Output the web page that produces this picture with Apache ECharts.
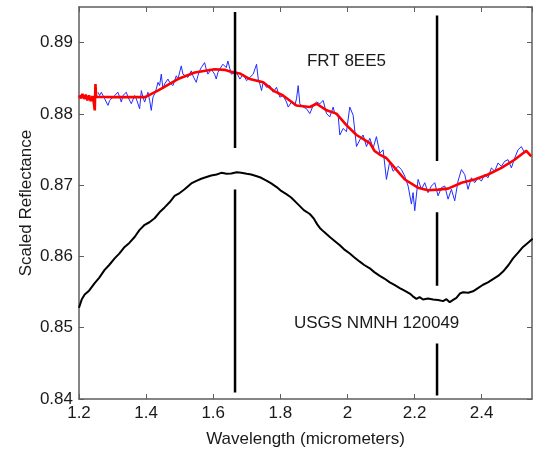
<!DOCTYPE html>
<html>
<head>
<meta charset="utf-8">
<script src="https://cdn.jsdelivr.net/npm/echarts@6/dist/echarts.min.js"></script>
<style>
html,body{margin:0;padding:0;background:#fff;}
#chart{width:533px;height:453px;}
</style>
</head>
<body>
<div id="chart"></div>
<script>
// ---- data ----
var xTicks = [1.2, 1.4, 1.6, 1.8, 2, 2.2, 2.4];
var yTicks = [0.84, 0.85, 0.86, 0.87, 0.88, 0.89];

// smoothed FRT 8EE5 spectrum (red)
var frtSmooth = [
  [1.200,0.8826],[1.205,0.8822],[1.210,0.8828],[1.215,0.8821],[1.220,0.8827],[1.225,0.8819],
  [1.230,0.8826],[1.235,0.8818],[1.240,0.8825],[1.244,0.8816],[1.247,0.8805],[1.249,0.8842],
  [1.251,0.8824],[1.300,0.88235],[1.397,0.88235],[1.435,0.88327],[1.495,0.88489],[1.545,0.88582],
  [1.604,0.88627],[1.634,0.88618],[1.650,0.88595],[1.679,0.88568],[1.709,0.88489],[1.749,0.88443],
  [1.779,0.88327],[1.808,0.88258],[1.848,0.88119],[1.888,0.88097],[1.908,0.88143],[1.938,0.8805],
  [1.967,0.88004],[1.997,0.87842],[2.027,0.87704],[2.067,0.87589],[2.081,0.8748],[2.096,0.8743],
  [2.116,0.87381],[2.141,0.87242],[2.171,0.8708],[2.210,0.86965],[2.240,0.86928],[2.270,0.86938],
  [2.300,0.86952],[2.340,0.87035],[2.379,0.8708],[2.419,0.8715],[2.459,0.87242],[2.498,0.87357],
  [2.533,0.87482],[2.548,0.87404]
];

// raw FRT 8EE5 spectrum (blue)
var frtRaw = [
  [1.2566,0.88304],[1.2615,0.88258],[1.2665,0.88304],[1.2765,0.88212],[1.2864,0.88120],[1.2914,0.88189],
  [1.2963,0.88212],[1.3062,0.88258],[1.3161,0.88304],[1.3211,0.88235],[1.3261,0.88166],[1.3310,0.88258],
  [1.3410,0.88304],[1.3460,0.88235],[1.3559,0.88143],[1.3658,0.88258],[1.3708,0.88212],[1.3807,0.88073],
  [1.3857,0.88327],[1.3906,0.88235],[1.3956,0.88166],[1.4055,0.88304],[1.4105,0.88189],[1.4154,0.88050],
  [1.4204,0.88235],[1.4253,0.88281],[1.4303,0.88350],[1.4353,0.88443],[1.4402,0.88397],[1.4452,0.88558],
  [1.4502,0.88350],[1.4551,0.88420],[1.4651,0.88489],[1.4700,0.88443],[1.4799,0.88397],[1.4849,0.88466],
  [1.4899,0.88535],[1.4948,0.88489],[1.4998,0.88466],[1.5048,0.88674],[1.5097,0.88558],[1.5147,0.88581],
  [1.5246,0.88512],[1.5296,0.88558],[1.5346,0.88604],[1.5395,0.88535],[1.5494,0.88443],[1.5544,0.88535],
  [1.5594,0.88604],[1.5643,0.88650],[1.5743,0.88720],[1.5792,0.88627],[1.5842,0.88558],[1.5941,0.88627],
  [1.6040,0.88558],[1.6090,0.88489],[1.6140,0.88581],[1.6189,0.88627],[1.6289,0.88697],[1.6338,0.88720],
  [1.6388,0.88650],[1.6437,0.88743],[1.6537,0.88558],[1.6596,0.88535],[1.6695,0.88581],[1.6795,0.88489],
  [1.6894,0.88558],[1.6993,0.88466],[1.7092,0.88512],[1.7192,0.88558],[1.7291,0.88697],[1.7341,0.88489],
  [1.7390,0.88420],[1.7440,0.88327],[1.7489,0.88443],[1.7589,0.88373],[1.7688,0.88397],[1.7787,0.88304],
  [1.7886,0.88373],[1.7986,0.88235],[1.8085,0.88258],[1.8184,0.88166],[1.8234,0.88096],[1.8333,0.88166],
  [1.8432,0.88120],[1.8482,0.88212],[1.8532,0.88397],[1.8581,0.88143],[1.8681,0.88096],[1.8780,0.88073],
  [1.8879,0.88004],[1.8979,0.88120],[1.9078,0.88166],[1.9177,0.88143],[1.9276,0.88189],[1.9376,0.88004],
  [1.9475,0.87958],[1.9574,0.88096],[1.9624,0.88004],[1.9723,0.87981],[1.9773,0.87704],[1.9872,0.87796],
  [1.9971,0.87750],[2.0070,0.88096],[2.0170,0.87981],[2.0269,0.87542],[2.0368,0.87635],[2.0468,0.87704],
  [2.0567,0.87542],[2.0666,0.87658],[2.0765,0.87519],[2.0864,0.87681],[2.0964,0.87450],[2.1063,0.87496],
  [2.1162,0.87081],[2.1262,0.87335],[2.1361,0.87196],[2.1510,0.87265],[2.1609,0.87219],[2.1708,0.87127],
  [2.1808,0.86988],[2.1907,0.86735],[2.1956,0.86896],[2.2006,0.86642],[2.2105,0.87081],[2.2205,0.86942],
  [2.2304,0.87035],[2.2403,0.86896],[2.2502,0.86988],[2.2602,0.87035],[2.2701,0.86850],[2.2800,0.86965],
  [2.2900,0.86988],[2.2999,0.86804],[2.3098,0.86942],[2.3197,0.86781],[2.3297,0.87058],[2.3396,0.87219],
  [2.3495,0.87150],[2.3594,0.86942],[2.3694,0.87104],[2.3793,0.87035],[2.3892,0.87104],[2.3992,0.87058],
  [2.4091,0.87150],[2.4190,0.87104],[2.4289,0.87242],[2.4389,0.87196],[2.4488,0.87312],[2.4587,0.87265],
  [2.4686,0.87335],[2.4786,0.87358],[2.4885,0.87242],[2.4984,0.87381],[2.5084,0.87496],[2.5183,0.87542],
  [2.5282,0.87450],[2.5330,0.87496]
];

// USGS NMNH 120049 library spectrum (black)
var usgs = [
  [1.2000,0.8528],[1.2080,0.85395],[1.2169,0.85465],[1.2300,0.85520],[1.2467,0.85626],[1.2600,0.85700],
  [1.2764,0.85811],[1.2900,0.85880],[1.3062,0.85973],[1.3200,0.86040],[1.3360,0.86134],[1.3500,0.86190],
  [1.3658,0.86273],[1.3800,0.86370],[1.3956,0.86444],[1.4100,0.86480],[1.4253,0.86536],[1.4400,0.86620],
  [1.4551,0.86688],[1.4700,0.86760],[1.4849,0.86850],[1.5000,0.86890],[1.5147,0.86942],[1.5346,0.87025],
  [1.5500,0.87060],[1.5643,0.87090],[1.5800,0.87115],[1.5941,0.87136],[1.6100,0.87150],[1.6239,0.87173],
  [1.6400,0.87160],[1.6537,0.87164],[1.6700,0.87180],[1.6835,0.87173],[1.7000,0.87160],[1.7132,0.87150],
  [1.7300,0.87125],[1.7430,0.87104],[1.7600,0.87060],[1.7728,0.87025],[1.7900,0.86970],[1.8026,0.86919],
  [1.8180,0.86875],[1.8323,0.86827],[1.8522,0.86734],[1.8700,0.86650],[1.8879,0.86596],[1.9000,0.86530],
  [1.9100,0.86450],[1.9177,0.86400],[1.9300,0.86345],[1.9475,0.86273],[1.9600,0.86225],[1.9773,0.86157],
  [1.9900,0.86100],[2.0070,0.86042],[2.0200,0.85990],[2.0368,0.85927],[2.0500,0.85880],[2.0666,0.85834],
  [2.0800,0.85780],[2.0964,0.85728],[2.1100,0.85690],[2.1262,0.85636],[2.1400,0.85600],[2.1559,0.85557],
  [2.1700,0.85520],[2.1857,0.85479],[2.1950,0.85440],[2.2000,0.85460],[2.2056,0.85405],[2.2150,0.85430],
  [2.2254,0.85396],[2.2400,0.85410],[2.2552,0.85396],[2.2700,0.85390],[2.2850,0.85373],[2.2950,0.85400],
  [2.3048,0.85359],[2.3150,0.85390],[2.3247,0.85419],[2.3350,0.85480],[2.3446,0.85497],[2.3600,0.85490],
  [2.3743,0.85511],[2.3900,0.85560],[2.4041,0.85603],[2.4200,0.85640],[2.4339,0.85682],[2.4500,0.85730],
  [2.4637,0.85788],[2.4800,0.85880],[2.4935,0.85973],[2.5100,0.86060],[2.5232,0.86134],[2.5400,0.86200],
  [2.5520,0.86250]
];

// band-marker vertical segments: [x, yTop, yBottom]
var bandMarks = [
  [1.665, 0.8943, 0.8752],
  [1.665, 0.8694, 0.8409],
  [2.267, 0.8938, 0.8734],
  [2.267, 0.8662, 0.8559],
  [2.267, 0.8478, 0.8405]
];

var annotationText = ['FRT 8EE5', 'USGS NMNH 120049'];
var annotationX = [1.997, 2.087];
var annotationY = [0.88738, 0.85055];

// ---- chart ----
var FONT = '"Liberation Sans", Arial, sans-serif';
var AXIS_COLOR = '#5e5e5e';
var TEXT_COLOR = '#1a1a1a';

var chart = echarts.init(document.getElementById('chart'), null, {renderer: 'canvas'});

function baseX(pos, show) {
  return {
    type: 'value', position: pos, min: 1.2, max: 2.55, interval: 0.2,
    axisLine: {show: true, onZero: false, lineStyle: {color: AXIS_COLOR, width: 1.5}},
    axisTick: {show: true, inside: true, length: 5, lineStyle: {color: AXIS_COLOR, width: 1}},
    axisLabel: {show: show, showMaxLabel: false, margin: 6, color: TEXT_COLOR, fontSize: 17, fontFamily: FONT,
      formatter: function (v) { return String(Math.round(v * 10) / 10); }},
    splitLine: {show: false}
  };
}
function baseY(pos, show) {
  return {
    type: 'value', position: pos, min: 0.84, max: 0.895, interval: 0.01,
    axisLine: {show: true, onZero: false, lineStyle: {color: AXIS_COLOR, width: 1.5}},
    axisTick: {show: true, inside: true, length: 5, lineStyle: {color: AXIS_COLOR, width: 1}},
    axisLabel: {show: show, showMaxLabel: false, margin: 6, color: TEXT_COLOR, fontSize: 17, fontFamily: FONT,
      formatter: function (v) { return (Math.round(v * 100) / 100).toFixed(2); }},
    splitLine: {show: false}
  };
}

var xMain = baseX('bottom', true);
xMain.name = 'Wavelength (micrometers)';
xMain.nameLocation = 'middle';
xMain.nameGap = 32;
xMain.nameMoveOverlap = false;
xMain.nameTextStyle = {color: TEXT_COLOR, fontSize: 17, fontFamily: FONT};
var yMain = baseY('left', true);
yMain.name = 'Scaled Reflectance';
yMain.nameLocation = 'middle';
yMain.nameGap = 44;
yMain.nameMoveOverlap = false;
yMain.nameTextStyle = {color: TEXT_COLOR, fontSize: 17, fontFamily: FONT};

var series = [
  {type: 'line', data: usgs, showSymbol: false, symbol: 'none', z: 3,
   lineStyle: {color: '#000', width: 2}},
  {type: 'line', data: frtRaw, showSymbol: false, symbol: 'none', z: 4,
   lineStyle: {color: '#1f2dff', width: 1}},
  {type: 'line', data: frtSmooth, showSymbol: false, symbol: 'none', z: 5,
   lineStyle: {color: '#ff0000', width: 2.6}}
];
bandMarks.forEach(function (m) {
  series.push({type: 'line', data: [[m[0], m[1]], [m[0], m[2]]], showSymbol: false, symbol: 'none', z: 6,
    lineStyle: {color: '#000', width: 2.5}});
});
series.push({
  type: 'custom', z: 7, silent: true,
  data: annotationText.map(function (t, i) { return [annotationX[i], annotationY[i], i]; }),
  renderItem: function (params, api) {
    var p = api.coord([api.value(0), api.value(1)]);
    return {
      type: 'text',
      x: p[0], y: p[1],
      style: {text: annotationText[api.value(2)], fill: TEXT_COLOR, font: '17px ' + FONT,
        textAlign: 'center', textVerticalAlign: 'middle', align: 'center', verticalAlign: 'middle'}
    };
  }
});

chart.setOption({
  animation: false,
  backgroundColor: '#fff',
  grid: {left: 79, right: 1, top: 7, bottom: 50, containLabel: false},
  xAxis: [xMain, baseX('top', false)],
  yAxis: [yMain, baseY('right', false)],
  series: series
});
</script>
</body>
</html>
